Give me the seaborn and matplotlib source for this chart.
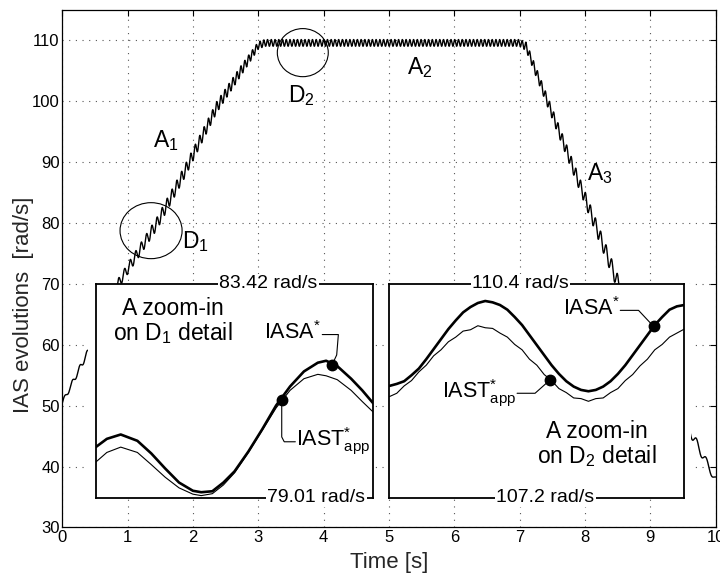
import numpy as np
import matplotlib
matplotlib.use("Agg")
import matplotlib.pyplot as plt
import seaborn as sns
from matplotlib.patches import Ellipse, Rectangle

# ---------------- data ----------------
# main IAS evolution: trend knots (time [s], speed [rad/s]) and ripple amplitude
trend_time = [0.0, 0.4, 0.85, 1.45, 1.85, 2.36, 2.75, 3.0, 3.1, 7.0, 7.1, 8.51, 9.64, 10.0]
trend_speed = [50.5, 59.0, 70.0, 80.0, 88.0, 99.0, 105.3, 109.2, 109.6, 109.6, 109.0, 70.0, 45.2, 37.8]
ripple_amp = [0.4, 0.5, 0.8, 1.0, 1.0, 0.9, 0.8, 0.6, 0.55, 0.55, 0.7, 1.3, 0.8, 0.6]

# zoom-in on D1 (normalised time inside the window, speed in rad/s)
d1_pos = [0.0, 0.04, 0.09, 0.15, 0.20, 0.25, 0.30, 0.35, 0.38, 0.42, 0.46, 0.50,
          0.55, 0.60, 0.65, 0.70, 0.75, 0.80, 0.83, 0.87, 0.92, 0.96, 1.0]
d1_iasa = [80.05, 80.22, 80.31, 80.18, 79.92, 79.61, 79.32, 79.15, 79.12, 79.14, 79.32, 79.55,
           79.96, 80.42, 80.91, 81.30, 81.61, 81.79, 81.83, 81.72, 81.46, 81.22, 80.95]
d1_iast = [79.74, 79.94, 80.05, 79.94, 79.69, 79.43, 79.21, 79.08, 79.05, 79.09, 79.27, 79.52,
           79.94, 80.40, 80.86, 81.22, 81.46, 81.55, 81.52, 81.44, 81.22, 80.99, 80.77]
d1_limits = [79.01, 83.42]
d1_marks = {"IASA": (0.851, 81.74), "IAST": (0.67, 81.02)}

# zoom-in on D2
d2_pos = list(np.linspace(0.0, 1.0, 41))
d2_iasa = [108.87, 108.90, 108.94, 109.03, 109.13, 109.27, 109.42, 109.57, 109.72, 109.85,
           109.97, 110.05, 110.11, 110.14, 110.12, 110.08, 110.01, 109.90, 109.78, 109.63,
           109.48, 109.33, 109.18, 109.05, 108.94, 108.86, 108.81, 108.79, 108.81, 108.86,
           108.94, 109.05, 109.18, 109.33, 109.48, 109.63, 109.78, 109.90, 110.01, 110.06, 110.08]
d2_iast = [108.71, 108.76, 108.87, 108.95, 109.08, 109.18, 109.32, 109.41, 109.53, 109.60,
           109.69, 109.71, 109.77, 109.74, 109.73, 109.66, 109.60, 109.49, 109.41, 109.27,
           109.18, 109.04, 108.95, 108.83, 108.77, 108.69, 108.68, 108.64, 108.68, 108.69,
           108.77, 108.83, 108.95, 109.04, 109.17, 109.27, 109.41, 109.49, 109.60, 109.66, 109.72]
d2_limits = [107.2, 110.4]
d2_marks = {"IASA": (0.896, 109.76), "IAST": (0.545, 108.96)}

x_ticks = [0, 1, 2, 3, 4, 5, 6, 7, 8, 9, 10]
y_ticks = [30, 40, 50, 60, 70, 80, 90, 100, 110]

# ---------------- style ----------------
sns.set_theme(style="white")
plt.rcParams["font.family"] = ["Liberation Sans", "DejaVu Sans"]
plt.rcParams["mathtext.fontset"] = "custom"
plt.rcParams["mathtext.rm"] = "Liberation Sans"
plt.rcParams["mathtext.it"] = "Liberation Sans:italic"
plt.rcParams["mathtext.bf"] = "Liberation Sans:bold"
plt.rcParams["axes.edgecolor"] = "black"
plt.rcParams["text.color"] = "black"

fig = plt.figure(figsize=(7.2, 5.73), dpi=100)
ax = fig.add_axes([0.0867, 0.0796, 0.9072, 0.9029])

# main curve
t = np.linspace(0, 10, 20001)
trend = np.interp(t, trend_time, trend_speed)
amp = np.interp(t, trend_time, ripple_amp)
angle = np.concatenate([[0.0], np.cumsum(0.5 * (trend[1:] + trend[:-1]) * np.diff(t))])
speed = trend + amp * np.sin(angle)
sns.lineplot(x=t, y=speed, ax=ax, color="black", lw=1.0, estimator=None, sort=False, zorder=2)

ax.set_xlim(0, 10)
ax.set_ylim(30, 115)
ax.set_xticks(x_ticks)
ax.set_yticks(y_ticks)
ax.tick_params(direction="in", length=4, width=0.8, top=True, right=True,
               labelsize=12, colors="black", pad=2)
ax.grid(True, linestyle=(0, (1, 5)), color="#555555", lw=0.8)
ax.set_axisbelow(True)
for s in ax.spines.values():
    s.set_linewidth(0.9)
    s.set_color("black")

ax.set_xlabel("Time [s]", fontsize=16)
ax.xaxis.set_label_coords(0.5, -0.047)
ax.set_ylabel("IAS evolutions  [rad/s]", fontsize=16)
ax.yaxis.set_label_coords(-0.0435, 0.431)

# region labels and circles
for txt, (x, y) in {r"A$_1$": (1.39, 92.4), r"A$_2$": (5.27, 104.4), r"A$_3$": (8.03, 87.1),
                    r"D$_1$": (1.83, 75.95), r"D$_2$": (3.46, 99.8)}.items():
    ax.text(x, y, txt, fontsize=16.5, va="baseline", ha="left")
ax.add_patch(Ellipse((1.357, 78.75), 0.95, 9.2, fill=False, ec="black", lw=0.8, zorder=3))
ax.add_patch(Ellipse((3.68, 108.0), 0.78, 7.9, fill=False, ec="black", lw=0.8, zorder=3))

# white margins around the insets
ax.add_patch(Rectangle((0.39, 34.9), 0.13, 35.15, fc="white", ec="none", zorder=2.5))
ax.add_patch(Rectangle((9.50, 34.9), 0.13, 35.15, fc="white", ec="none", zorder=2.5))


def make_inset(bounds, pos, thick, thin, lims, marks, top_lab, top_x, bot_lab, bot_x):
    ai = ax.inset_axes(bounds, transform=ax.transData)
    ai.set_facecolor("white")
    sns.lineplot(x=pos, y=thick, ax=ai, color="black", lw=1.9, estimator=None, sort=False)
    sns.lineplot(x=pos, y=thin, ax=ai, color="black", lw=0.8, estimator=None, sort=False)
    ai.set_xlim(0, 1)
    ai.set_ylim(*lims)
    ai.set_xticks([])
    ai.set_yticks([])
    ai.set_xlabel("")
    ai.set_ylabel("")
    ai.grid(False)
    for s in ai.spines.values():
        s.set_linewidth(1.3)
        s.set_color("black")
    for k in ("IASA", "IAST"):
        ai.plot(*marks[k], "o", color="black", ms=7.5, zorder=6)
    bb = dict(fc="white", ec="none", pad=1.0)
    ai.text(top_x, 1.0, top_lab, transform=ai.transAxes, ha="center", va="center",
            fontsize=14, bbox=bb, zorder=7)
    ai.text(bot_x, 0.0, bot_lab, transform=ai.transAxes, ha="center", va="center",
            fontsize=14, bbox=bb, zorder=7)
    return ai


IASA_TXT = r"$\mathrm{IASA}^{*}$"
IAST_TXT = r"$\mathrm{IAST}^{*}_{\mathrm{app}}$"

ax1 = make_inset([0.51, 34.9, 4.25, 35.15], d1_pos, d1_iasa, d1_iast, d1_limits, d1_marks,
                 "83.42 rad/s", 0.621, "79.01 rad/s", 0.795)
ax1.text(0.279, 82.64, "A zoom-in\non D$_1$ detail", ha="center", va="center",
         fontsize=16.5, linespacing=1.0)
ax1.text(0.811, 82.42, IASA_TXT, ha="right", va="center", fontsize=15.5)
ax1.plot([0.816, 0.874, 0.868, 0.851], [82.37, 82.37, 81.95, 81.74], color="black", lw=0.8)
ax1.plot([0.67, 0.67, 0.679, 0.719], [81.02, 80.26, 80.16, 80.16], color="black", lw=0.8)
ax1.text(0.722, 80.16, IAST_TXT, ha="left", va="center", fontsize=15.5,
         bbox=dict(fc="white", ec="none", pad=0.5), zorder=7)

ax2 = make_inset([5.006, 34.9, 4.514, 35.15], d2_pos, d2_iasa, d2_iast, d2_limits, d2_marks,
                 "110.4 rad/s", 0.444, "107.2 rad/s", 0.528)
ax2.text(0.705, 107.99, "A zoom-in\non D$_2$ detail", ha="center", va="center",
         fontsize=16.5, linespacing=1.0)
ax2.text(0.781, 110.02, IASA_TXT, ha="right", va="center", fontsize=15.5)
ax2.plot([0.783, 0.845, 0.896], [110.0, 110.0, 109.76], color="black", lw=0.8)
ax2.text(0.430, 108.76, IAST_TXT, ha="right", va="center", fontsize=15.5)
ax2.plot([0.433, 0.494, 0.545], [108.76, 108.76, 108.96], color="black", lw=0.8)

fig.savefig("out.png", dpi=100)
